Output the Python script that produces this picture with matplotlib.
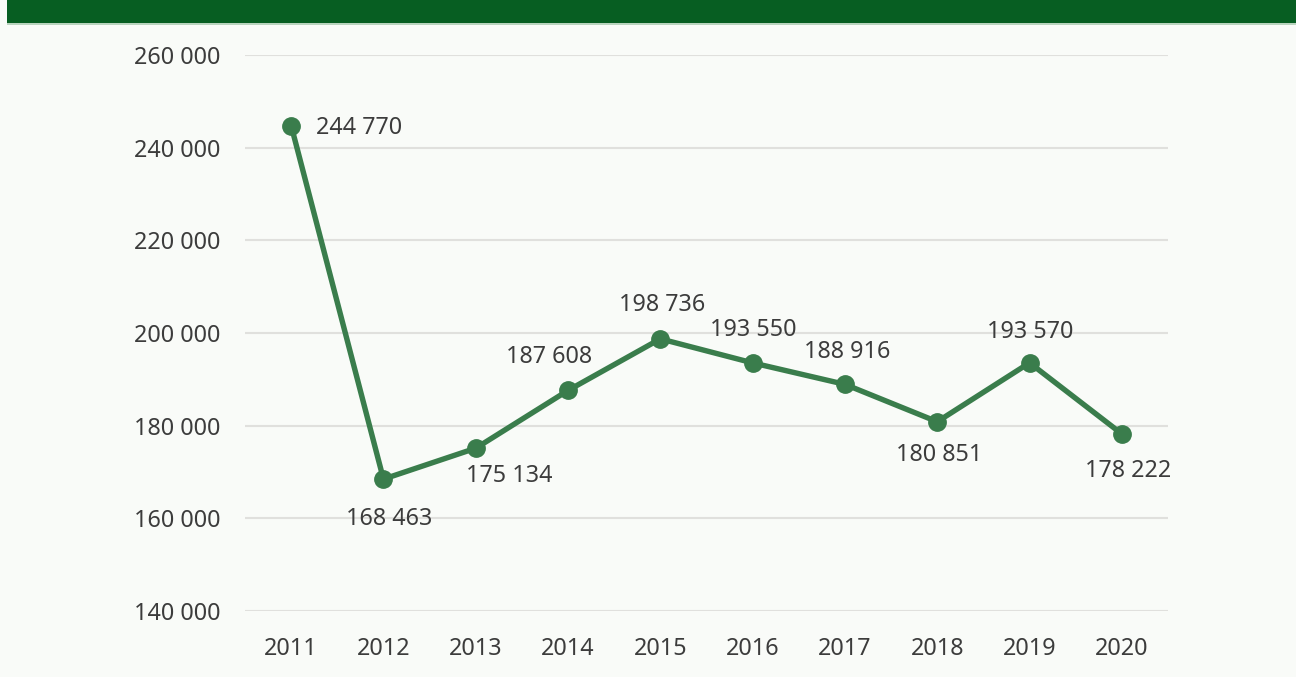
import matplotlib.pyplot as plt
from matplotlib.patches import Rectangle

plt.rcParams['font.family'] = ['Noto Sans', 'DejaVu Sans']

years = ['2011', '2012', '2013', '2014', '2015', '2016', '2017', '2018', '2019', '2020']
values = [244770, 168463, 175134, 187608, 198736, 193550, 188916, 180851, 193570, 178222]
yTicks = [140000, 160000, 180000, 200000, 220000, 240000, 260000]

# label offsets from each marker, in pixels (dx, dy)
labelOffsets = [(25, -2), (6, -40), (34, -28), (-19, 33), (2, 34),
                (1, 33), (2, 32), (2, -33), (1, 31), (6, -37)]

bgColor = '#F9FBF8'
lineColor = '#3A7D4C'
textColor = '#3C3C3C'
fs = 16.8

fig = plt.figure(figsize=(12.96, 6.77), dpi=100, facecolor=bgColor)
ax = fig.add_axes([245 / 1296, 1 - 611 / 677, 923 / 1296, 556 / 677])
ax.set_facecolor(bgColor)

# top banner
fig.patches.append(Rectangle((7 / 1296, 1 - 23 / 677), 1, 23 / 677, transform=fig.transFigure,
                             facecolor='#075E22', edgecolor='none', zorder=0))
fig.patches.append(Rectangle((7 / 1296, 1 - 24.5 / 677), 1, 1.5 / 677, transform=fig.transFigure,
                             facecolor='#B9D4BE', edgecolor='none', zorder=0))

xPos = list(range(len(years)))
ax.plot(xPos, values, color=lineColor, linewidth=3.9, marker='o', markersize=12.5,
        solid_joinstyle='round', zorder=3)

for x, v, (dx, dy) in zip(xPos, values, labelOffsets):
    txt = f'{v:,}'.replace(',', ' ')
    ha = 'left' if abs(dy) < 5 else 'center'
    ax.annotate(txt, (x, v), xytext=(dx * 0.72, dy * 0.72), textcoords='offset points',
                ha=ha, va='center', fontsize=fs, color=textColor)

ax.set_xlim(-0.5, len(years) - 0.5)
ax.set_ylim(140000, 260000)
ax.set_yticks(yTicks)
ax.set_yticklabels([f'{t:,}'.replace(',', ' ') for t in yTicks])
ax.set_xticks(xPos)
ax.set_xticklabels(years)
ax.tick_params(axis='both', length=0, labelsize=fs, labelcolor=textColor)
ax.tick_params(axis='y', pad=18)
ax.tick_params(axis='x', pad=19)
ax.grid(axis='y', color='#E0E0DD', linewidth=1.5)
ax.set_axisbelow(True)
for s in ax.spines.values():
    s.set_visible(False)

fig.savefig('out.png', dpi=100, facecolor=bgColor)
